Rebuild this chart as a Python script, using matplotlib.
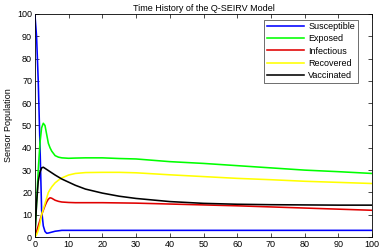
import matplotlib
matplotlib.use("Agg")
import matplotlib.pyplot as plt

# time points (days) and population values
t = [0, 0.5, 1, 1.5, 2, 2.5, 3, 3.5, 4, 4.5, 5, 6, 7, 8, 10, 12, 15,
     20, 25, 30, 40, 50, 60, 70, 80, 90, 100]

susceptible = [100, 90, 70, 42, 12, 5, 2.5, 1.7, 1.8, 2.0, 2.2, 2.6, 2.8,
               3, 3, 3, 3, 3, 3, 3, 3, 3, 3, 3, 3, 3, 3]
exposed = [0, 15, 30, 42, 49, 51, 50, 46, 42, 40, 38.5, 36.5, 35.8, 35.5,
           35.3, 35.4, 35.5, 35.5, 35.2, 35.0, 33.8, 33, 32, 31, 30,
           29.3, 28.5]
infectious = [0, 2.5, 5, 7.5, 10, 12, 14, 15.7, 17, 17.6, 17.4, 16.5, 16,
              15.7, 15.5, 15.4, 15.4, 15.4, 15.3, 15.2, 14.8, 14.4, 14,
              13.5, 13, 12.5, 12]
recovered = [0, 1, 3, 6, 10, 12.5, 15, 17.5, 20, 21.3, 22.5, 24.3, 25.5,
             26.5, 27.8, 28.5, 28.9, 29, 29, 28.8, 27.9, 27.1, 26.3, 25.7,
             25, 24.5, 24]
vaccinated = [0, 15, 25, 29, 31, 31.3, 30.8, 30.3, 29.8, 29.3, 28.8, 27.8,
              26.9, 26, 24.6, 23.2, 21.5, 19.7, 18.3, 17.3, 15.9, 15.1,
              14.7, 14.5, 14.4, 14.3, 14.3]

series = [
    ("Susceptible", susceptible, "#0000ff"),
    ("Exposed", exposed, "#00ff00"),
    ("Infectious", infectious, "#e00000"),
    ("Recovered", recovered, "#ffff00"),
    ("Vaccinated", vaccinated, "#000000"),
]

plt.rcParams["font.family"] = ["Liberation Sans", "DejaVu Sans"]
plt.rcParams["font.size"] = 6.5

fig = plt.figure(figsize=(3.79, 2.49), dpi=100)
ax = fig.add_axes([0.092, 0.048, 0.89, 0.896])

for name, values, color in series:
    ax.plot(t, values, color=color, lw=1.15, label=name)

ax.set_xlim(0, 100)
ax.set_ylim(0, 100)
ax.set_xticks(range(0, 101, 10))
ax.set_yticks(range(0, 101, 10))
ax.tick_params(direction="in", top=True, right=True, length=3, width=0.5,
               pad=2, labelsize=6.5)
for spine in ax.spines.values():
    spine.set_linewidth(0.6)

ax.set_title("Time History of the Q-SEIRV Model", fontsize=6.5, pad=2)
ax.set_ylabel("Sensor Population", fontsize=6.5, labelpad=3)

leg = ax.legend(loc="upper right", fontsize=6.5, frameon=True, fancybox=False,
                edgecolor="black", handlelength=4.2, borderpad=0.3,
                labelspacing=0.35, handletextpad=0.4,
                bbox_to_anchor=(0.97, 0.995))
leg.get_frame().set_linewidth(0.5)

fig.savefig("out.png", dpi=100)
